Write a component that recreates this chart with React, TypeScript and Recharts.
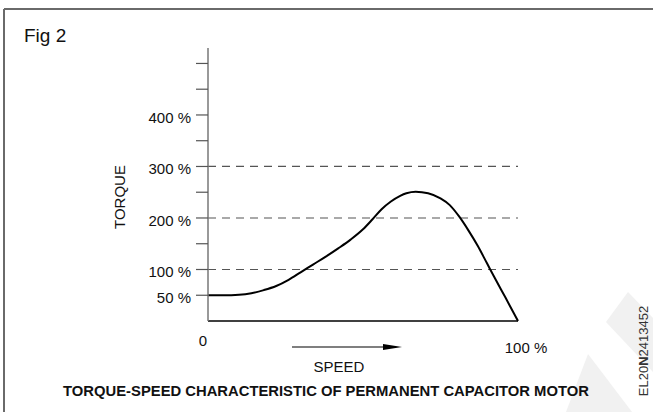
import { LineChart, Line, XAxis, YAxis, ReferenceLine } from "recharts";

// speed (% of synchronous) vs torque (% of full load)
const speed = [0, 5, 10, 14, 18, 22, 26, 30, 34, 38, 42, 46, 50, 53, 56, 59, 62, 64, 67, 71, 75, 78, 81, 84, 87, 90, 93, 96, 100];
const torque = [50, 50, 51, 54, 60, 68, 80, 95, 110, 125, 141, 158, 178, 197, 217, 232, 243, 248, 251, 248, 238, 225, 203, 176, 146, 112, 78, 45, 0];

const yTicks = [50, 100, 150, 200, 250, 300, 350, 400, 450, 500];
const yLabelled = [50, 100, 200, 300, 400];
const dashedLevels = [100, 200, 300];
const xTicks = [0, 100];

const data = speed.map((s, i) => ({ speed: s, torque: torque[i] }));

const FONT = '"Liberation Sans", Arial, sans-serif';

const YTick = (props: any) => {
  const { x, y, payload } = props;
  if (!yLabelled.includes(payload.value)) return null;
  return (
    <text x={x} y={y + 8} textAnchor="end" fontSize={15} fill="#111" fontFamily={FONT}>
      {payload.value} %
    </text>
  );
};

const XTick = (props: any) => {
  const { x, y, payload } = props;
  const last = payload.value === 100;
  return (
    <text
      x={x + (last ? 8 : -5)}
      y={y + (last ? 24 : 17)}
      textAnchor="middle"
      fontSize={15}
      fill="#111"
      fontFamily={FONT}
    >
      {last ? "100 %" : "0"}
    </text>
  );
};

export default function App() {
  return (
    <div
      style={{
        position: "relative",
        width: 653,
        height: 412,
        background: "#fff",
        overflow: "hidden",
        fontFamily: FONT,
      }}
    >
      <style>{`body{margin:0}`}</style>
      <svg width={653} height={412} style={{ position: "absolute", top: 0, left: 0 }}>
        {/* faint watermark bands */}
        <polygon points="588,354 632,412 566,412" fill="#f1f1f1" />
        <polygon points="628,292 653,318 653,372 606,322" fill="#f1f1f1" />
        {/* cropped frame */}
        <line x1={4} y1={9} x2={653} y2={9} stroke="#6a6a6a" strokeWidth={2} />
        <line x1={4} y1={9} x2={4} y2={412} stroke="#6a6a6a" strokeWidth={2} />
        <text x={24} y={42} fontSize={19} fill="#111">
          Fig 2
        </text>
        <text
          x={0}
          y={0}
          transform="translate(125,197) rotate(-90)"
          textAnchor="middle"
          fontSize={15}
          fill="#111"
        >
          TORQUE
        </text>
        <line x1={292} y1={347} x2={386} y2={347} stroke="#000" strokeWidth={1.2} />
        <polygon points="383,344 402,347 383,350" fill="#000" />
        <text x={339} y={372} textAnchor="middle" fontSize={15} fill="#111">
          SPEED
        </text>
        <text x={326} y={396} textAnchor="middle" fontSize={14.8} fontWeight="bold" fill="#111">
          TORQUE-SPEED CHARACTERISTIC OF PERMANENT CAPACITOR MOTOR
        </text>
        <text
          x={0}
          y={0}
          transform="translate(648,351) rotate(-90)"
          textAnchor="middle"
          fontSize={13}
          fill="#333"
        >
          EL20<tspan fontWeight="bold">N</tspan>2413452
        </text>
      </svg>
      <div style={{ position: "absolute", top: 0, left: 0 }}>
        <LineChart
          width={653}
          height={412}
          data={data}
          margin={{ top: 48, right: 135, bottom: 61, left: 148 }}
        >
          <XAxis
            dataKey="speed"
            type="number"
            domain={[0, 100]}
            ticks={xTicks}
            tickLine={false}
            axisLine={{ stroke: "#000", strokeWidth: 1.5 }}
            tick={<XTick />}
            height={30}
          />
          <YAxis
            type="number"
            domain={[0, 530]}
            ticks={yTicks}
            interval={0}
            width={60}
            tickSize={12}
            tickMargin={5}
            tickLine={{ stroke: "#555", strokeWidth: 1.2 }}
            axisLine={{ stroke: "#777", strokeWidth: 1.5 }}
            tick={<YTick />}
          />
          {dashedLevels.map((lv) => (
            <ReferenceLine
              key={lv}
              y={lv}
              stroke="#555"
              strokeWidth={1.2}
              strokeDasharray="8 6"
            />
          ))}
          <Line
            dataKey="torque"
            type="monotone"
            stroke="#000"
            strokeWidth={2}
            dot={false}
            isAnimationActive={false}
          />
        </LineChart>
      </div>
    </div>
  );
}
